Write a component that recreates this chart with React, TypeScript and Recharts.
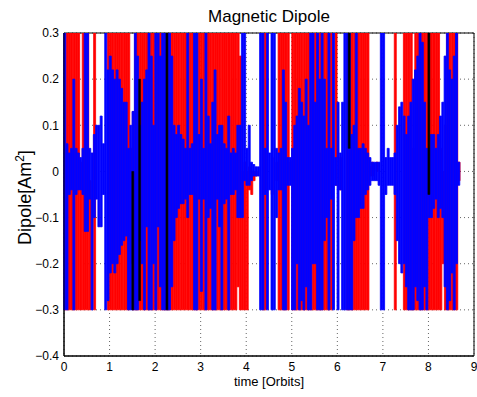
import { ComposedChart, Bar, XAxis, YAxis, CartesianGrid, ReferenceArea } from "recharts";

type Span = [number, number] | null;

// time axis is split into 0.05-orbit bins; each series keeps its [min, max] per bin
const BIN = 0.05;
const BIN_COUNT = 180; // 0 .. 9 orbits
const TIME_TICKS = [0, 1, 2, 3, 4, 5, 6, 7, 8, 9];
const DIPOLE_TICKS = [-0.4, -0.3, -0.2, -0.1, 0, 0.1, 0.2, 0.3];

const red: Span[] = [
  // 0.0 - 0.5
  [-.3, .3], [-.3, .3], [-.3, .3], [-.3, .3], [-.3, .3], [-.3, .3], [-.3, .3], [-.3, .02], [-.3, .3], [-.3, .3],
  // 0.5 - 1.0
  [-.3, .3], [-.3, -.02], null, [-.3, .3], null, null, null, null, null, [-.3, .3],
  // 1.0 - 1.5
  [-.3, .3], [-.3, .3], [-.3, .3], [-.3, .3], [-.3, .3], [-.3, .3], [-.3, .3], [-.3, .3], [-.3, .3], [-.2, .05],
  // 1.5 - 2.0
  [-.3, .13], [-.3, .3], [-.3, .3], [-.3, .3], [-.3, .3], [-.3, .3], [-.3, .3], [-.3, .3], [-.3, .3], [-.3, .3],
  // 2.0 - 2.5
  [-.3, .3], [-.3, .3], [-.3, .3], [-.3, .3], [-.3, .3], [-.3, .3], [-.3, .3], [-.3, .3], [-.3, .3], [-.3, .3],
  // 2.5 - 3.0
  [-.3, .3], [-.3, .3], [-.3, .3], [-.3, .3], [-.3, .3], [-.3, .3], [-.3, .3], [-.3, .3], [-.3, .3], [-.3, .3],
  // 3.0 - 3.5
  [-.3, .3], [-.3, .3], [-.3, .3], [-.3, .3], [-.3, .3], [-.3, .3], [-.3, .3], [-.3, .3], [-.3, .3], [-.3, .3],
  // 3.5 - 4.0
  [-.3, .3], [-.3, .3], [-.3, .3], [-.3, .3], [-.3, .3], [-.3, .3], [-.25, .3], [-.3, .25], [-.3, 0], [-.3, .02],
  // 4.0 - 4.5
  [-.3, 0], [-.04, .01], [-.05, 0], [-.02, 0], [-.01, 0], null, null, [-.3, .3], [-.3, .3], null,
  // 4.5 - 5.0
  null, [-.05, .03], null, [-.02, .02], [-.3, .3], [-.3, .3], [-.3, .3], [-.3, .3], [-.3, .3], [-.02, .02],
  // 5.0 - 5.5
  [-.3, .3], [-.3, .3], [-.3, .3], [-.3, .3], [-.3, .3], [-.3, .3], [-.3, .3], [-.3, .3], [-.3, .3], [-.3, .3],
  // 5.5 - 6.0
  [-.3, .3], [-.3, .3], [-.3, .3], [-.3, .3], [-.3, .3], [-.3, .3], [-.3, .3], [-.3, .3], null, [-.03, .3],
  // 6.0 - 6.5
  null, [-.04, .03], null, null, [-.3, .3], [-.3, .3], [-.3, .3], [-.3, .3], [-.3, .3], [-.3, .3],
  // 6.5 - 7.0
  [-.3, .3], [-.3, .3], [-.3, .3], [-.3, .3], [-.01, .01], [-.01, .02], null, [0, .02], null, null,
  // 7.0 - 7.5
  null, null, null, null, null, [-.3, .3], null, null, null, [-.3, .3],
  // 7.5 - 8.0
  [-.3, .3], [-.3, .3], [-.3, .3], [-.3, .05], [-.3, .3], [-.3, .3], [-.3, .3], [-.3, .3], [-.3, .3], [-.3, .3],
  // 8.0 - 8.5
  [-.3, .3], [-.3, .3], [-.3, .3], [-.3, .3], [-.3, .3], [-.3, .05], [-.2, 0], [-.3, .1], [-.3, .3], [-.3, .3],
  // 8.5 - 8.7
  [-.3, .3], [-.3, .3], [-.3, .3], [-.02, .02],
];

const blue: Span[] = [
  // 0.0 - 0.5
  [-.3, .3], [-.3, .06], [-.05, .04], [-.04, .05], [-.3, .2], [-.05, .05], [-.04, .04], [-.04, .03], [-.05, .05], [-.13, .3],
  // 0.5 - 1.0
  [-.13, .3], [-.06, .05], [-.3, .04], [-.1, .08], [-.06, .1], [-.12, .1], [-.12, .12], [-.05, .06], [-.3, .3], [-.28, .22],
  // 1.0 - 1.5
  [-.22, .25], [-.2, .22], [-.22, .2], [-.2, .22], [-.18, .2], [-.16, .18], [-.15, .15], [-.14, .15], [-.3, .05], [-.3, .1],
  // 1.5 - 2.0
  [-.3, .13], [-.3, .3], [-.3, .25], [-.15, .1], [-.2, .15], [-.3, .2], [-.12, .22], [-.3, .3], [-.3, .25], [-.2, .1],
  // 2.0 - 2.5
  [-.3, .3], [-.12, .3], [-.25, .25], [-.3, .3], [-.3, .3], [-.3, .3], [-.3, .3], [-.25, .25], [-.15, .1], [-.1, .08],
  // 2.5 - 3.0
  [-.08, .1], [-.07, .08], [-.07, .07], [-.06, .05], [-.1, .3], [-.05, .05], [-.05, .06], [-.3, .3], [-.3, .3], [-.06, .08],
  // 3.0 - 3.5
  [-.26, .2], [-.06, .05], [-.3, .3], [-.1, .12], [-.08, .06], [-.3, .15], [-.3, .22], [-.06, .08], [-.12, .1], [-.3, .1],
  // 3.5 - 4.0
  [-.07, .06], [-.06, .05], [-.3, .12], [-.05, .04], [-.05, .05], [-.04, .04], [-.1, .1], [-.1, .1], [-.1, .3], [-.02, .3],
  // 4.0 - 4.5
  [-.03, .05], [-.03, .1], [-.02, .02], [-.01, .015], [-.01, .01], [-.01, .01], [-.3, .3], [-.3, .3], [-.05, .05], [-.3, .3],
  // 4.5 - 5.0
  [-.04, .04], [-.3, .3], [-.3, .3], [-.1, .05], [-.04, .04], [-.04, .05], [-.3, .22], [-.3, .15], [-.03, .03], [-.03, .03],
  // 5.0 - 5.5
  [-.3, .05], [-.3, .1], [-.2, .12], [-.3, .18], [-.28, .15], [-.3, .12], [-.25, .2], [-.3, .1], [-.3, .3], [-.2, .3],
  // 5.5 - 6.0
  [-.2, .15], [-.3, .3], [-.3, .2], [-.3, .3], [-.15, .2], [-.1, .05], [-.3, .3], [-.06, .05], [-.3, .3], [-.03, .03],
  // 6.0 - 6.5
  [-.3, .15], [-.04, .04], [-.3, .15], [-.3, .3], [-.3, .3], [-.3, .3], [-.3, .08], [-.15, .1], [-.1, .3], [-.1, .05],
  // 6.5 - 7.0
  [-.08, .05], [-.08, .06], [-.05, .05], [-.04, .04], [-.03, .03], [-.02, .02], [-.02, .02], [-.02, .02], [-.03, .02], [-.3, .3],
  // 7.0 - 7.5
  [-.3, .3], [-.05, .03], [-.03, .05], [-.03, .03], [-.03, .03], [-.05, .04], [-.15, .1], [-.2, .14], [-.22, .15], [-.2, .12],
  // 7.5 - 8.0
  [-.25, .08], [-.3, .12], [-.3, .15], [-.3, .2], [-.25, .22], [-.28, .25], [-.3, .3], [-.3, .28], [-.25, .15], [-.3, .05],
  // 8.0 - 8.5
  [-.1, .05], [-.1, .08], [-.08, .08], [-.06, .05], [-.1, .08], [-.08, .12], [-.1, .15], [-.25, .25], [-.3, .3], [-.28, .22],
  // 8.5 - 8.7
  [-.22, .2], [-.3, .25], [-.2, .3], [-.03, .02],
];

// the third (black) trace only shows through in a few bins
const blackBins = [30, 33, 45, 125, 160];
const blackSpans: [number, number][] = [[-.3, 0], [-.28, .2], [-.3, .3], [.05, .3], [-.05, .3]];

const rows = Array.from({ length: BIN_COUNT }, (_, k) => {
  const bi = blackBins.indexOf(k);
  return {
    bin: k,
    t: (k + 0.5) * BIN,
    red: red[k] ?? null,
    blue: blue[k] ?? null,
    black: bi >= 0 ? blackSpans[bi] : null,
  };
});

const fmt = (v: number) => (v === 0 ? "0" : v.toFixed(1).replace("-", "\u2212"));

const FONT = "'Liberation Sans', Arial, Helvetica, sans-serif";

export default function App() {
  return (
    <div style={{ position: "absolute", left: 0, top: 0, width: 477, height: 397, background: "#fff", fontFamily: FONT }}>
      <div style={{ position: "absolute", left: 64, top: 7, width: 410, textAlign: "center", fontSize: 17, lineHeight: "20px" }}>
        Magnetic Dipole
      </div>
      <ComposedChart
        width={477}
        height={397}
        data={rows}
        margin={{ top: 33, right: 3, bottom: 11, left: 24 }}
        barGap="-100%"
        barCategoryGap={0}
        style={{ fontFamily: FONT }}
      >
        <CartesianGrid xAxisId="t" stroke="#666" strokeDasharray="1 3" />
        <XAxis xAxisId="bins" dataKey="bin" type="category" hide height={0} />
        <XAxis
          xAxisId="t"
          dataKey="t"
          type="number"
          domain={[0, 9]}
          ticks={TIME_TICKS}
          allowDataOverflow
          height={30}
          tickLine={false}
          tickSize={4}
          tickMargin={2}
          axisLine={{ stroke: "#000" }}
          tick={{ fill: "#000", fontSize: 12 }}
        />
        <YAxis
          type="number"
          domain={[-0.4, 0.3]}
          ticks={DIPOLE_TICKS}
          allowDataOverflow
          width={40}
          tickLine={false}
          tickSize={3}
          tickMargin={2}
          tickFormatter={fmt}
          axisLine={{ stroke: "#000" }}
          tick={{ fill: "#000", fontSize: 12 }}
        />
        <Bar xAxisId="bins" dataKey="red" fill="#ff0000" stroke="#ff0000" strokeWidth={0.8} isAnimationActive={false} />
        <Bar xAxisId="bins" dataKey="blue" fill="#0000ff" stroke="#0000ff" strokeWidth={0.8} isAnimationActive={false} />
        <Bar xAxisId="bins" dataKey="black" fill="#000000" stroke="#000000" strokeWidth={0.5} isAnimationActive={false} />
        <ReferenceArea xAxisId="t" x1={0} x2={9} y1={-0.4} y2={0.3} fill="none" stroke="#000" strokeWidth={1} />
      </ComposedChart>
      <div style={{ position: "absolute", left: 64, top: 374, width: 410, textAlign: "center", fontSize: 13, lineHeight: "16px" }}>
        time [Orbits]
      </div>
      <div
        style={{
          position: "absolute",
          left: 22 - 100,
          top: 195 - 11,
          width: 200,
          textAlign: "center",
          fontSize: 18,
          lineHeight: "22px",
          transform: "rotate(-90deg)",
        }}
      >
        Dipole[Am<sup style={{ fontSize: 12 }}>2</sup>]
      </div>
    </div>
  );
}
